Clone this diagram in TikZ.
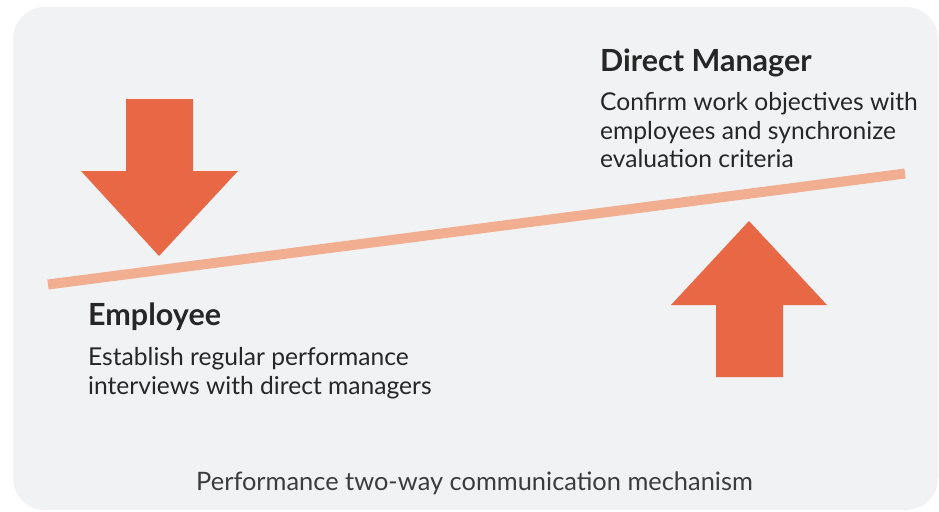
\documentclass[tikz,border=0pt]{standalone}
\usepackage{fontspec}
\setmainfont{Lato}
\usepackage{xcolor}
\usetikzlibrary{positioning}
\definecolor{PanelGray}{RGB}{241,242,244}
\definecolor{ArrowRed}{RGB}{232,103,68}
\definecolor{BeamPeach}{RGB}{242,174,144}
\definecolor{InkGray}{RGB}{38,38,38}
\tikzset{
	heading/.style={anchor=base west, inner sep=0pt, text=InkGray, font=\fontsize{30.5}{34}\selectfont\bfseries},
	bodytext/.style={anchor=north west, inner sep=0pt, align=left, text=InkGray, font=\fontsize{24.6}{28.7}\selectfont},
}

\begin{document}
\begin{tikzpicture}[x=1pt, y=-1pt]
		\useasboundingbox (0,0) rectangle (939,511);
		\fill[PanelGray, rounded corners=32pt] (13,7) rectangle (938,510);
		% seesaw beam
		\coordinate (L) at (48,284.5);
		\coordinate (R) at (905,173.5);
		\draw[BeamPeach, line width=10pt] (L)--(R);
		% down arrow (left)
		\coordinate (D1) at (126,99);
		\coordinate (D2) at (193,99);
		\coordinate (D3) at (193,171);
		\coordinate (D4) at (238,171);
		\coordinate (Dt) at (159,256);
		\coordinate (D5) at (81,171);
		\coordinate (D6) at (126,171);
		\fill[ArrowRed] (D1)--(D2)--(D3)--(D4)--(Dt)--(D5)--(D6)--cycle;
		% up arrow (right)
		\coordinate (U1) at (716,377);
		\coordinate (U2) at (783,377);
		\coordinate (U3) at (783,305);
		\coordinate (U4) at (827,305);
		\coordinate (Ut) at (749,221);
		\coordinate (U5) at (671,305);
		\coordinate (U6) at (716,305);
		\fill[ArrowRed] (U1)--(U2)--(U3)--(U4)--(Ut)--(U5)--(U6)--cycle;
		% labels
		\node[heading] (mgr) at (600,71) {Direct Manager};
		\node[bodytext] (mgrtext) at (600,92) {Confirm work objectives with\\employees and synchronize\\evaluation criteria};
		\node[heading] (emp) at (88,325) {Employee};
		\node[bodytext] (emptext) at (88,347.5) {Establish regular performance\\interviews with direct managers};
		\node[anchor=base, inner sep=0pt, text=InkGray!90, font=\fontsize{25.4}{28}\selectfont] (cap) at (474.5,490) {Performance two-way communication mechanism};
	\end{tikzpicture}
\end{document}
